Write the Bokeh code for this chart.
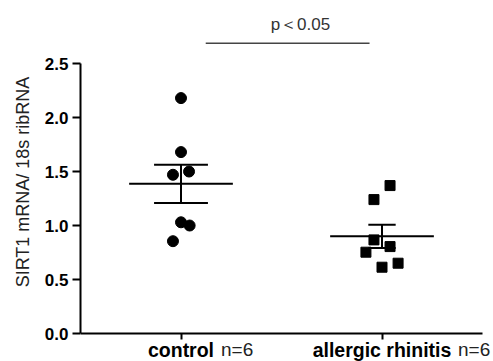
from bokeh.plotting import figure
from bokeh.models import Range1d, FixedTicker, Label, NumeralTickFormatter, ColumnDataSource
from bokeh.embed import file_html
from bokeh.resources import INLINE

# ---- data ----
groups = ["control", "allergic rhinitis"]
group_pos = [1, 2]
n_labels = ["n=6", "n=6"]
control_vals = [2.18, 1.68, 1.50, 1.47, 1.03, 1.00, 0.855]
allergic_vals = [1.37, 1.24, 0.867, 0.805, 0.753, 0.651, 0.614]
control_jitter = [0.0, 0.0, 0.04, -0.04, 0.0, 0.043, -0.04]
allergic_jitter = [0.04, -0.04, -0.04, 0.04, -0.08, 0.08, 0.0]
means = [1.386, 0.90]
sems = [0.177, 0.108]
y_ticks = [0.0, 0.5, 1.0, 1.5, 2.0, 2.5]
sig_text = "p＜0.05"
sig_y = 2.688

FONT = "Liberation Sans"

p = figure(frame_width=413, frame_height=359, output_backend="svg", toolbar_location=None,
           x_axis_location="above",
           x_range=Range1d(0.5, 2.5547), y_range=Range1d(-0.259, 3.065),
           min_border_left=80, min_border_right=0, min_border_top=2, min_border_bottom=0)
p.outline_line_color = None
p.xgrid.visible = False
p.ygrid.visible = False
p.background_fill_color = "white"
p.border_fill_color = "white"

# y axis
yax = p.yaxis[0]
yax.bounds = (0, 2.5)
yax.ticker = FixedTicker(ticks=y_ticks)
yax.formatter = NumeralTickFormatter(format="0.0")
yax.axis_line_width = 2
yax.axis_line_color = "black"
yax.major_tick_line_width = 2
yax.major_tick_line_color = "black"
yax.major_tick_out = 8
yax.major_tick_in = 0
yax.minor_tick_line_color = None
yax.major_label_standoff = 4
yax.major_label_text_font = FONT
yax.major_label_text_font_style = "bold"
yax.major_label_text_font_size = "17px"
yax.major_label_text_color = "black"
yax.axis_label = "SIRT1 mRNA/ 18s ribRNA"
yax.axis_label_text_font = FONT
yax.axis_label_text_font_style = "normal"
yax.axis_label_text_font_size = "18px"
yax.axis_label_text_color = "#222222"
yax.axis_label_standoff = 9

# x axis (placed in the top panel, but drawn at y = 0 with ticks pointing down)
xax = p.xaxis[0]
xax.fixed_location = 0
xax.bounds = (0.5, 2.5)
xax.ticker = FixedTicker(ticks=group_pos)
xax.axis_line_width = 2
xax.axis_line_color = "black"
xax.major_tick_line_width = 2
xax.major_tick_line_color = "black"
xax.major_tick_out = 0
xax.major_tick_in = 6
xax.minor_tick_line_color = None
xax.major_label_standoff = 0
xax.major_label_text_font_size = "0px"
xax.major_label_text_color = None

# points
cx = [group_pos[0] + j for j in control_jitter]
ax = [group_pos[1] + j for j in allergic_jitter]
p.scatter(cx, control_vals, marker="circle", size=11, fill_color="black", line_color="black")
p.scatter(ax, allergic_vals, marker="square", size=10, fill_color="black", line_color="black")

# mean lines and SEM bars
mean_half = 0.258
cap_half = [0.134, 0.068]
src = ColumnDataSource(dict(
    x=group_pos, m=means,
    lo=[m - s for m, s in zip(means, sems)],
    hi=[m + s for m, s in zip(means, sems)],
    ml=[x - mean_half for x in group_pos], mr=[x + mean_half for x in group_pos],
    cl=[x - c for x, c in zip(group_pos, cap_half)], cr=[x + c for x, c in zip(group_pos, cap_half)],
))
p.segment(x0="ml", y0="m", x1="mr", y1="m", source=src, line_width=2, line_color="black")
p.segment(x0="x", y0="lo", x1="x", y1="hi", source=src, line_width=2, line_color="black")
p.segment(x0="cl", y0="hi", x1="cr", y1="hi", source=src, line_width=2, line_color="black")
p.segment(x0="cl", y0="lo", x1="cr", y1="lo", source=src, line_width=2, line_color="black")

# significance line and text
p.segment(x0=[group_pos[0] + 0.123], y0=[sig_y], x1=[group_pos[1] - 0.062], y1=[sig_y],
          line_width=1.4, line_color="#444444")
p.add_layout(Label(x=1.594, y=sig_y, y_offset=19, text=sig_text, text_align="center",
                   text_baseline="alphabetic", text_font=FONT, text_font_size="17px",
                   text_color="#333333"))

# category labels
label_y = -0.241
word_half = [34, 70]
for g, xpos, n, wh in zip(groups, group_pos, n_labels, word_half):
    p.add_layout(Label(x=xpos, y=label_y, y_offset=10, text=g, text_align="center",
                       text_baseline="alphabetic",
                       text_font=FONT, text_font_style="bold", text_font_size="19.5px",
                       text_color="black"))
    p.add_layout(Label(x=xpos, y=label_y, x_offset=wh + 6, y_offset=10, text=n, text_align="left",
                       text_baseline="alphabetic", text_font=FONT, text_font_style="normal",
                       text_font_size="19px", text_color="#222222"))

open("out.html", "w").write(file_html(p, INLINE))
